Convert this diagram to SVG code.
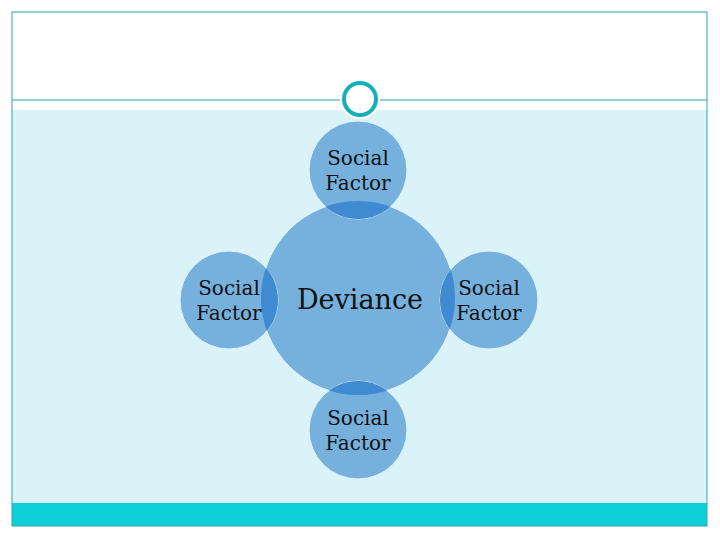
<svg xmlns="http://www.w3.org/2000/svg" width="720" height="540" viewBox="0 0 720 540">
<style>
.sat{fill:#76b1de;stroke:#e8f4fb;stroke-width:1}
.lens{fill:#3f8ad0}
.t{font-family:"DejaVu Serif","Liberation Serif",serif;fill:#111;text-anchor:middle}
.s{font-size:20px}
.c{font-size:27px}
</style>
<defs>
<clipPath id="big"><circle cx="358" cy="298" r="97"/></clipPath>
</defs>
<rect x="0" y="0" width="720" height="540" fill="#ffffff"/>
<rect x="12" y="110" width="695" height="393" fill="#daf3f8"/>
<rect x="12" y="503" width="695" height="23" fill="#0ecfd8"/>
<rect x="12" y="12" width="695" height="514" fill="none" stroke="#2aa8a8" stroke-width="1"/>
<line x1="12" y1="100" x2="342" y2="100" stroke="#2aa8a8" stroke-width="1"/>
<line x1="378" y1="100" x2="707" y2="100" stroke="#2aa8a8" stroke-width="1"/>
<circle cx="360" cy="99" r="20" fill="#ffffff"/>
<circle cx="360" cy="99" r="16" fill="#ffffff" stroke="#13b0b8" stroke-width="4"/>
<g id="center">
<circle cx="358" cy="298" r="97" class="sat"/>
</g>
<g id="top">
<circle cx="358" cy="170" r="49" class="sat"/>
<circle cx="358" cy="170" r="49" class="lens" clip-path="url(#big)"/>
<text class="t s" x="358" y="165">Social</text>
<text class="t s" x="358" y="190">Factor</text>
</g>
<g id="bottom">
<circle cx="358" cy="430" r="49" class="sat"/>
<circle cx="358" cy="430" r="49" class="lens" clip-path="url(#big)"/>
<text class="t s" x="358" y="425">Social</text>
<text class="t s" x="358" y="450">Factor</text>
</g>
<g id="left">
<circle cx="229" cy="300" r="49" class="sat"/>
<circle cx="229" cy="300" r="49" class="lens" clip-path="url(#big)"/>
<text class="t s" x="229" y="295">Social</text>
<text class="t s" x="229" y="320">Factor</text>
</g>
<g id="right">
<circle cx="489" cy="300" r="49" class="sat"/>
<circle cx="489" cy="300" r="49" class="lens" clip-path="url(#big)"/>
<text class="t s" x="489" y="295">Social</text>
<text class="t s" x="489" y="320">Factor</text>
</g>
<text class="t c" x="360" y="309">Deviance</text>
<g id="connectors"></g>
</svg>
